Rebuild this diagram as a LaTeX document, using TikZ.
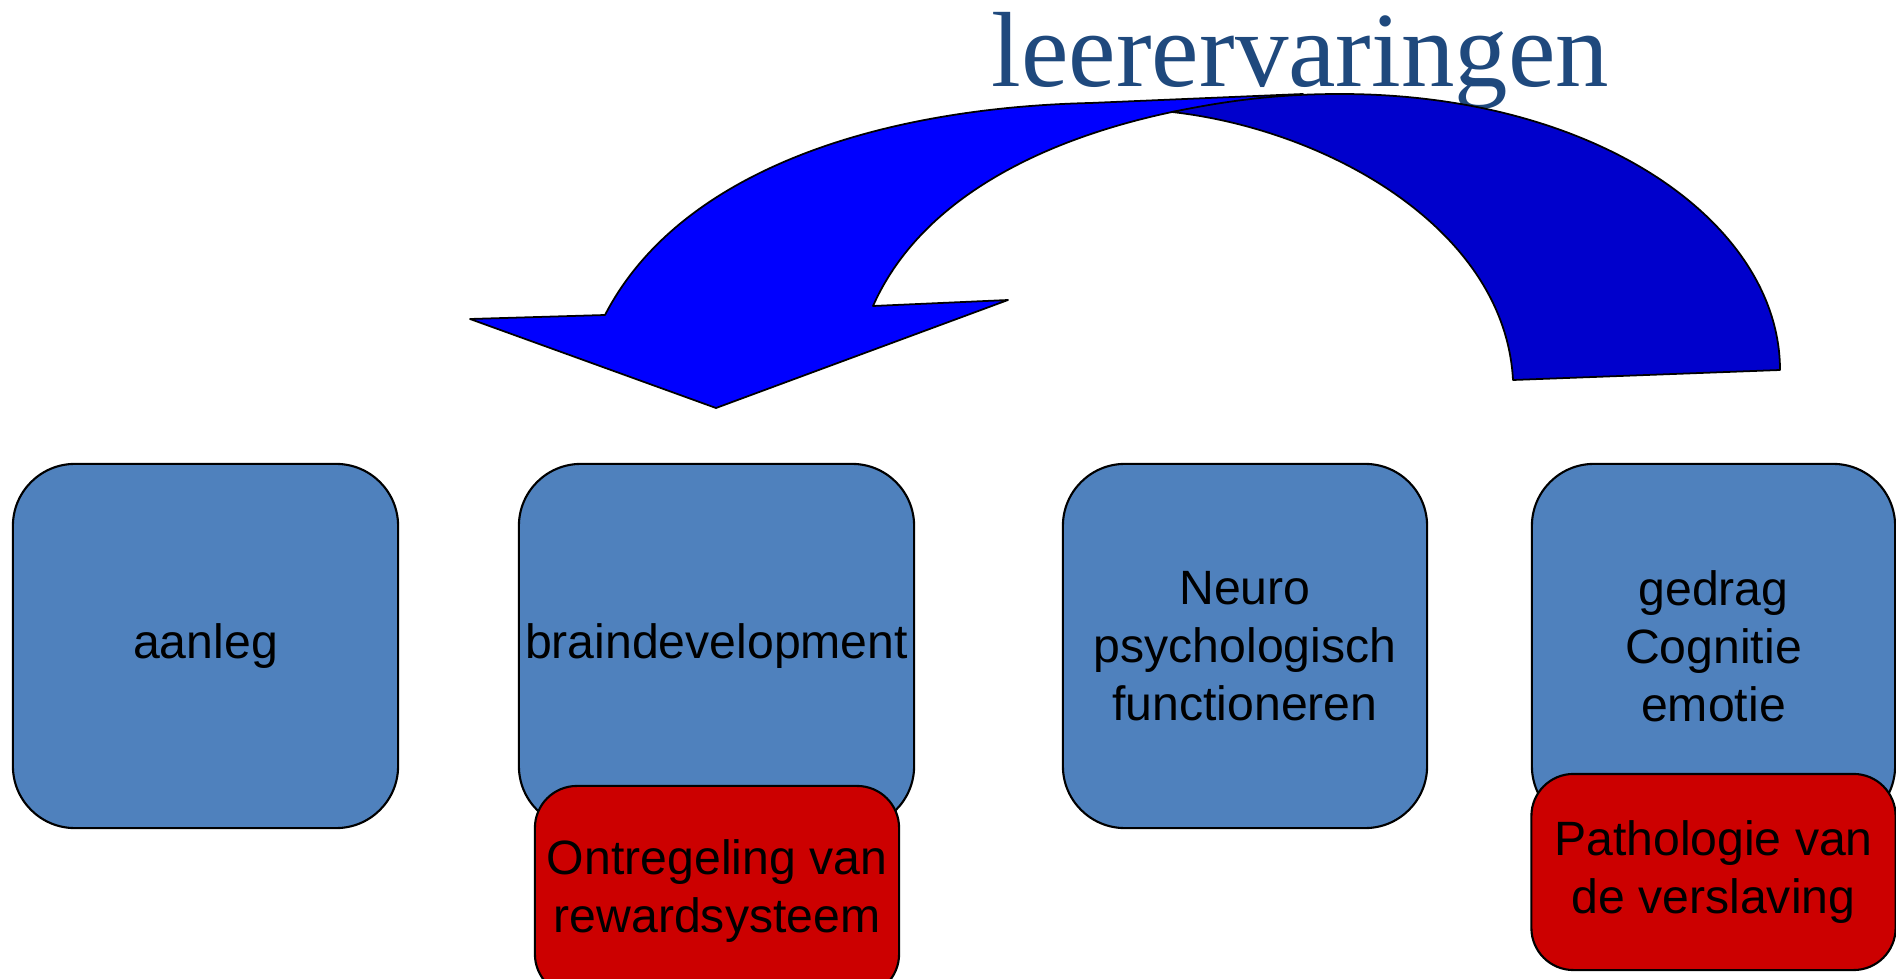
\documentclass[tikz,border=0pt]{standalone}
\usepackage{fontspec}
\setmainfont{Liberation Sans}
\newfontfamily\titlefont{Liberation Serif}
\definecolor{boxblue}{RGB}{79,129,189}
\definecolor{boxred}{RGB}{204,0,0}
\definecolor{arrowblue}{RGB}{0,0,255}
\definecolor{arrowdark}{RGB}{0,0,204}
\definecolor{titleblue}{RGB}{31,73,125}

\begin{document}
\begin{tikzpicture}[x=0.01cm, y=-0.01cm,
    bluebox/.style={rectangle, draw, line width=0.6pt, fill=boxblue, rounded corners=0.62cm,
        minimum height=3.64cm, inner sep=0pt, align=center,
        font=\fontsize{13.7}{16.5}\selectfont},
    redbox/.style={rectangle, draw, line width=0.6pt, fill=boxred, rounded corners=0.42cm,
        minimum width=3.64cm, inner sep=0pt, align=center,
        font=\fontsize{13.7}{16.5}\selectfont},
    arrowpart/.style={draw, line width=0.5pt, line join=round}]
    \useasboundingbox (0,0) rectangle (1896,979);

    %title
    \node[anchor=base west, inner sep=0pt, text=titleblue, font=\titlefont\fontsize{30.4}{36}\selectfont] (leer) at (991,87) {leerervaringen};

    %arrow, front part
    \fill[arrowpart, fill=arrowblue] (605,315)
        .. controls (680,170) and (880,108) .. (1090,103)
        -- (1303,94) -- (1172,112)
        .. controls (1040,140) and (920,200) .. (873,306)
        -- (1008,300) -- (716,408) -- (470,319) -- cycle;
    %arrow, back part
    \fill[arrowpart, fill=arrowdark] (1172,112)
        .. controls (1230,100) and (1280,94) .. (1340,94)
        .. controls (1600,94) and (1780,225) .. (1780,370)
        -- (1513,380)
        .. controls (1505,230) and (1330,130) .. (1172,112)
        -- cycle;

    %boxes
    \node[bluebox, minimum width=3.85cm] (aanleg) at (205.5,646) {aanleg};
    \node[bluebox, minimum width=3.95cm] (brain) at (716.5,646) {braindevelopment};
    \node[bluebox, minimum width=3.64cm] (neuro) at (1245,646) {Neuro\\psychologisch\\functioneren};
    \node[bluebox, minimum width=3.63cm] (gedrag) at (1713.5,646) {gedrag\\Cognitie\\emotie};
    \node[redbox, minimum height=2.10cm] (ontregeling) at (717,891) {Ontregeling van\\rewardsysteem};
    \node[redbox, minimum height=1.96cm] (pathologie) at (1713.5,872) {Pathologie van\\de verslaving};
\end{tikzpicture}
\end{document}
